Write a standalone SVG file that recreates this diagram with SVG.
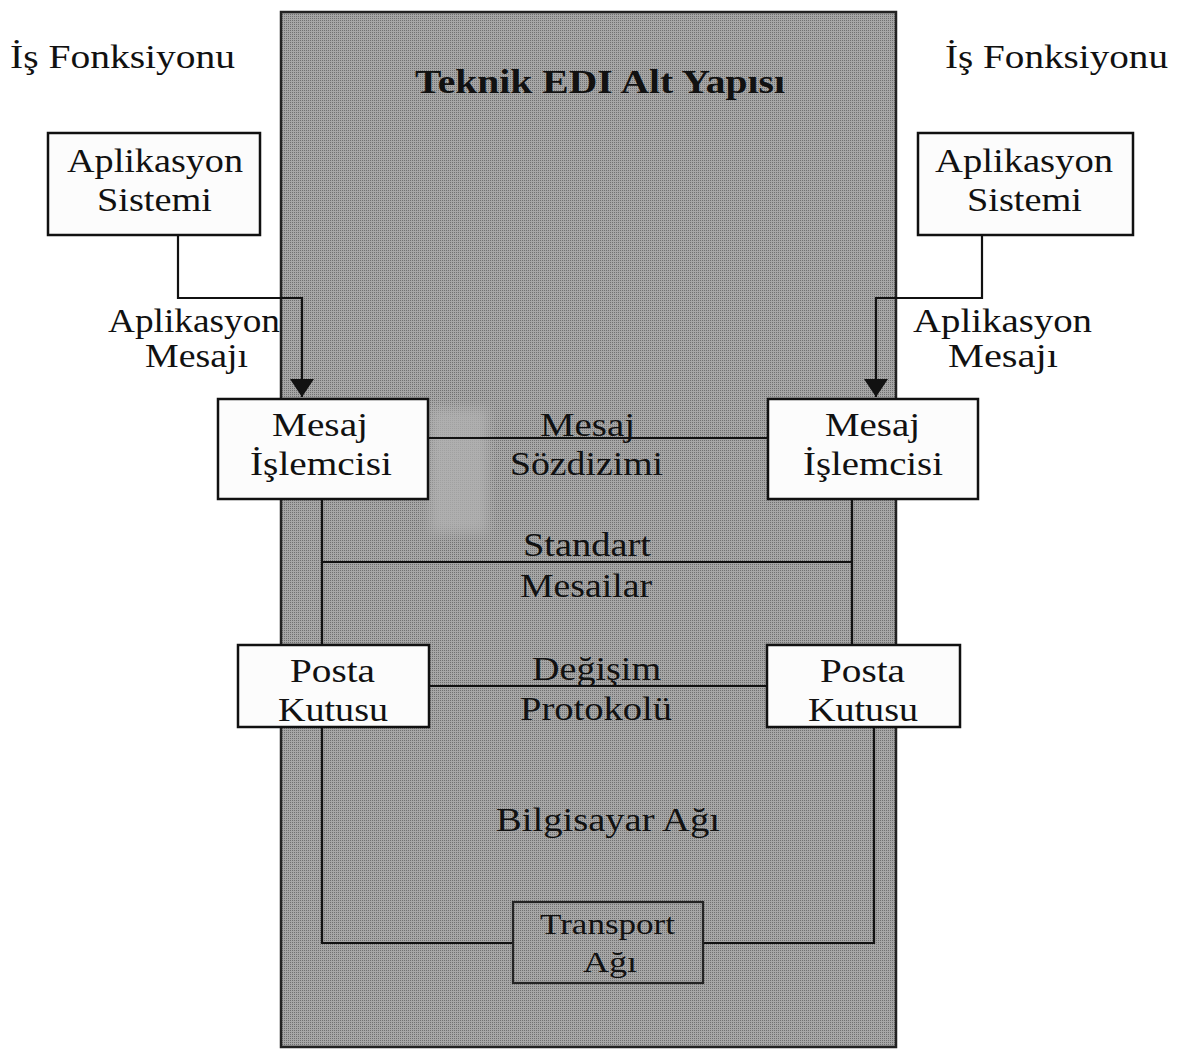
<svg xmlns="http://www.w3.org/2000/svg" width="1178" height="1052" viewBox="0 0 1178 1052">
  <style>
    .t { font-family: "Liberation Serif", "Times New Roman", serif; font-size: 34px; fill: #111; text-anchor: middle; }
    .s { font-size: 30px; }
    .b { font-weight: bold; font-size: 33px; }
    .box { fill: #fcfcfc; stroke: #111; stroke-width: 2.5; }
    .ln { fill: none; stroke: #111; stroke-width: 2.2; }
  </style>
  <defs>
    <pattern id="dither" width="2" height="2" patternUnits="userSpaceOnUse">
      <rect width="2" height="2" fill="#a6a6a6"/>
      <rect width="1" height="1" fill="#707070"/>
    </pattern>
    <filter id="blur" x="-50%" y="-50%" width="200%" height="200%">
      <feGaussianBlur stdDeviation="6"/>
    </filter>
    <marker id="arrow" viewBox="0 0 18 24" markerWidth="18" markerHeight="24" refX="18" refY="12" orient="auto" markerUnits="userSpaceOnUse">
      <path d="M0,0 L18,12 L0,24 Z" fill="#111"/>
    </marker>
  </defs>
  <rect width="1178" height="1052" fill="#ffffff"/>

  <g id="infrastructure">
    <rect x="281" y="12" width="615" height="1035" fill="url(#dither)" stroke="#222" stroke-width="2.5"/>
    <rect x="430" y="408" width="58" height="125" fill="#b2b2b2" opacity="0.75" filter="url(#blur)"/>
    <text class="t b" x="600" y="93" textLength="370" lengthAdjust="spacingAndGlyphs">Teknik EDI Alt Yapısı</text>
  </g>

  <g id="label-left">
    <text class="t" x="122.5" y="68" textLength="225" lengthAdjust="spacingAndGlyphs">İş Fonksiyonu</text>
  </g>
  <g id="label-right">
    <text class="t" x="1056.5" y="68" textLength="223" lengthAdjust="spacingAndGlyphs">İş Fonksiyonu</text>
  </g>

  <g id="connectors">
    <polyline class="ln" points="178,235 178,298 302,298 302,397" marker-end="url(#arrow)"/>
    <polyline class="ln" points="982,235 982,298 876,298 876,397" marker-end="url(#arrow)"/>
    <line class="ln" x1="428" y1="438" x2="768" y2="438"/>
    <line class="ln" x1="322" y1="562" x2="852" y2="562"/>
    <line class="ln" x1="429" y1="686" x2="767" y2="686"/>
    <line class="ln" x1="322" y1="499" x2="322" y2="645"/>
    <line class="ln" x1="852" y1="499" x2="852" y2="645"/>
    <polyline class="ln" points="322,727 322,943 513,943"/>
    <polyline class="ln" points="874,727 874,943 703,943"/>
  </g>

  <g id="app-system-left">
    <rect class="box" x="48" y="133" width="212" height="102"/>
    <text class="t" x="155" y="172" textLength="176" lengthAdjust="spacingAndGlyphs">Aplikasyon</text>
    <text class="t" x="154.5" y="211" textLength="115" lengthAdjust="spacingAndGlyphs">Sistemi</text>
  </g>
  <g id="app-system-right">
    <rect class="box" x="918" y="133" width="215" height="102"/>
    <text class="t" x="1024" y="172" textLength="178" lengthAdjust="spacingAndGlyphs">Aplikasyon</text>
    <text class="t" x="1024.5" y="211" textLength="115" lengthAdjust="spacingAndGlyphs">Sistemi</text>
  </g>

  <g id="app-message-left">
    <text class="t" x="194" y="332" textLength="172" lengthAdjust="spacingAndGlyphs">Aplikasyon</text>
    <text class="t" x="196.5" y="367" textLength="103" lengthAdjust="spacingAndGlyphs">Mesajı</text>
  </g>
  <g id="app-message-right">
    <text class="t" x="1002.5" y="332" textLength="179" lengthAdjust="spacingAndGlyphs">Aplikasyon</text>
    <text class="t" x="1003" y="367" textLength="110" lengthAdjust="spacingAndGlyphs">Mesajı</text>
  </g>

  <g id="processor-left">
    <rect class="box" x="218" y="399" width="210" height="100"/>
    <text class="t" x="320" y="436" textLength="96" lengthAdjust="spacingAndGlyphs">Mesaj</text>
    <text class="t" x="321" y="475" textLength="142" lengthAdjust="spacingAndGlyphs">İşlemcisi</text>
  </g>
  <g id="processor-right">
    <rect class="box" x="768" y="399" width="210" height="100"/>
    <text class="t" x="872.5" y="436" textLength="95" lengthAdjust="spacingAndGlyphs">Mesaj</text>
    <text class="t" x="873" y="475" textLength="140" lengthAdjust="spacingAndGlyphs">İşlemcisi</text>
  </g>

  <g id="syntax">
    <text class="t" x="587.5" y="436" textLength="95" lengthAdjust="spacingAndGlyphs">Mesaj</text>
    <text class="t" x="586.5" y="475" textLength="153" lengthAdjust="spacingAndGlyphs">Sözdizimi</text>
  </g>
  <g id="standard-messages">
    <text class="t" x="587" y="556" textLength="128" lengthAdjust="spacingAndGlyphs">Standart</text>
    <text class="t" x="586" y="597" textLength="132" lengthAdjust="spacingAndGlyphs">Mesailar</text>
  </g>

  <g id="mailbox-left">
    <rect class="box" x="238" y="645" width="191" height="82"/>
    <text class="t" x="332.5" y="682" textLength="85" lengthAdjust="spacingAndGlyphs">Posta</text>
    <text class="t" x="333" y="721" textLength="110" lengthAdjust="spacingAndGlyphs">Kutusu</text>
  </g>
  <g id="mailbox-right">
    <rect class="box" x="767" y="645" width="193" height="82"/>
    <text class="t" x="862.5" y="682" textLength="85" lengthAdjust="spacingAndGlyphs">Posta</text>
    <text class="t" x="863" y="721" textLength="110" lengthAdjust="spacingAndGlyphs">Kutusu</text>
  </g>

  <g id="exchange-protocol">
    <text class="t" x="596.5" y="680" textLength="129" lengthAdjust="spacingAndGlyphs">Değişim</text>
    <text class="t" x="596" y="720" textLength="152" lengthAdjust="spacingAndGlyphs">Protokolü</text>
  </g>

  <g id="computer-network">
    <text class="t" x="608" y="831" textLength="224" lengthAdjust="spacingAndGlyphs">Bilgisayar Ağı</text>
  </g>

  <g id="transport-network">
    <rect x="513" y="902" width="190" height="81" fill="url(#dither)" stroke="#222" stroke-width="2.2"/>
    <text class="t s" x="607.5" y="934" textLength="135" lengthAdjust="spacingAndGlyphs">Transport</text>
    <text class="t s" x="610" y="972" textLength="54" lengthAdjust="spacingAndGlyphs">Ağı</text>
  </g>
</svg>
